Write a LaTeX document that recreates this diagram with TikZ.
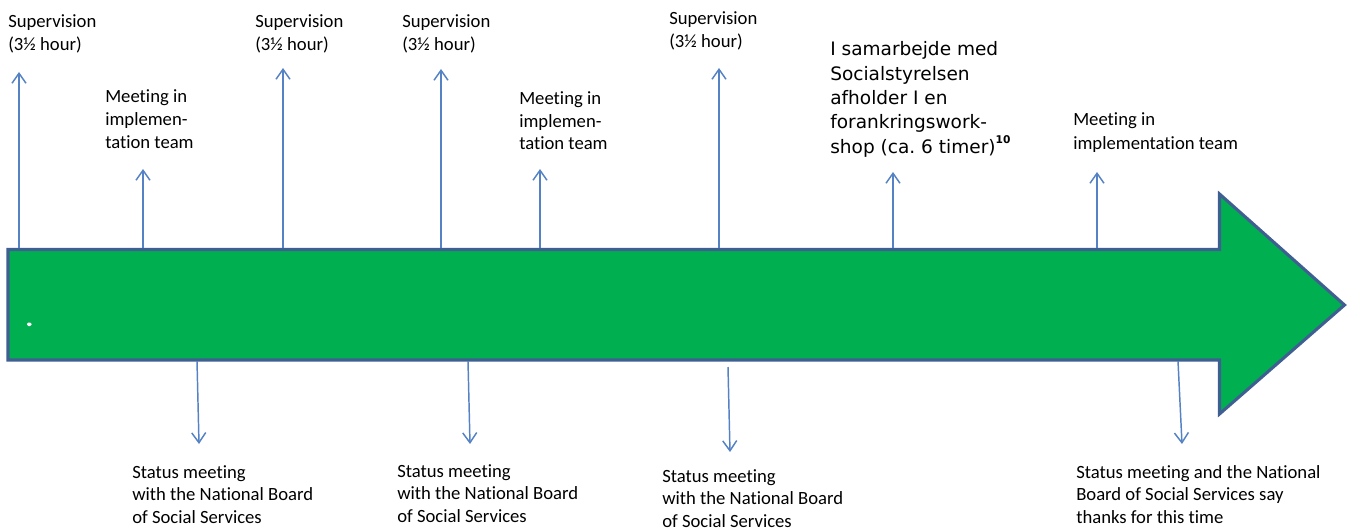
\documentclass[tikz,border=0pt]{standalone}
\usepackage{fontspec}
\setmainfont{Carlito}[Ligatures=NoCommon]
\newfontfamily\wsfont{DejaVu Sans}
\usetikzlibrary{arrows.meta}
\definecolor{bodygreen}{RGB}{0,176,80}
\definecolor{bodyedge}{RGB}{63,94,145}
\definecolor{tickblue}{RGB}{84,130,196}
\frenchspacing

\begin{document}
\begin{tikzpicture}[x=0.75pt,y=-0.75pt,
  tick/.style={draw=tickblue,line width=1.1pt,
    -{Straight Barb[length=7.5pt,width=10.5pt,line width=1.1pt]}},
  lbl/.style={anchor=base west,inner sep=0pt,
    font=\fontsize{14pt}{17.25pt}\selectfont},
  lbldown/.style={anchor=base west,inner sep=0pt,
    font=\fontsize{14pt}{16.9pt}\selectfont},
  wslbl/.style={anchor=base west,inner sep=0pt,
    font=\wsfont\fontsize{13.9pt}{18.2pt}\selectfont}]
\useasboundingbox (0,0) rectangle (1347,528);
\clip (0,0) rectangle (1347,528);

% the timeline arrow
\draw[fill=bodygreen,draw=bodyedge,line width=2.3pt,line join=miter]
  (8,249.5) -- (1219.5,249.5) -- (1219.5,194) -- (1344.5,305)
  -- (1219.5,414) -- (1219.5,360) -- (8,360) -- cycle;
\fill[white,rounded corners=1pt] (27,322.5) rectangle (31.5,326);

% events above the line
\coordinate (a1) at (19,248);   \coordinate (b1) at (19,72);
\coordinate (a2) at (143,248);  \coordinate (b2) at (143,169);
\coordinate (a3) at (283,248);  \coordinate (b3) at (283,68);
\coordinate (a4) at (441,248);  \coordinate (b4) at (441,69);
\coordinate (a5) at (540,248);  \coordinate (b5) at (540,169);
\coordinate (a6) at (719,248);  \coordinate (b6) at (719,68);
\coordinate (a7) at (893,248);  \coordinate (b7) at (893,172);
\coordinate (a8) at (1097,248); \coordinate (b8) at (1097,172);
\foreach \i in {1,...,8} \draw[tick] (a\i) -- (b\i);

% events below the line
\coordinate (c1) at (197,361);  \coordinate (d1) at (199,444);
\coordinate (c2) at (468,361);  \coordinate (d2) at (470,444);
\coordinate (c3) at (728,367);  \coordinate (d3) at (730,452);
\coordinate (c4) at (1178,361); \coordinate (d4) at (1182,444);
\foreach \i in {1,...,4} \draw[tick] (c\i) -- (d\i);

% labels above
\node[lbl] (sup1) at (8,28)
  {\begin{tabular}[t]{@{}l@{}}Supervision\\(3½ hour)\end{tabular}};
\node[lbl] (imp1) at (105,103)
  {\begin{tabular}[t]{@{}l@{}}Meeting in\\implemen-\\tation team\end{tabular}};
\node[lbl] (sup2) at (255,28)
  {\begin{tabular}[t]{@{}l@{}}Supervision\\(3½ hour)\end{tabular}};
\node[lbl] (sup3) at (402,28)
  {\begin{tabular}[t]{@{}l@{}}Supervision\\(3½ hour)\end{tabular}};
\node[lbl] (imp2) at (519,104)
  {\begin{tabular}[t]{@{}l@{}}Meeting in\\implemen-\\tation team\end{tabular}};
\node[lbl] (sup4) at (669,25)
  {\begin{tabular}[t]{@{}l@{}}Supervision\\(3½ hour)\end{tabular}};
\node[wslbl] (ws) at (830,56)
  {\begin{tabular}[t]{@{}l@{}}I samarbejde med\\Socialstyrelsen\\afholder I en\\forankringswork-\\shop (ca. 6 timer)\raisebox{7pt}{\bfseries\fontsize{8pt}{8pt}\selectfont 10}\end{tabular}};
\node[lbl] (imp3) at (1073,126)
  {\begin{tabular}[t]{@{}l@{}}Meeting in\\implementation team\end{tabular}};

% labels below
\node[lbldown] (st1) at (132,478)
  {\begin{tabular}[t]{@{}l@{}}Status meeting\\with the National Board\\of Social Services\end{tabular}};
\node[lbldown] (st2) at (397,477)
  {\begin{tabular}[t]{@{}l@{}}Status meeting\\with the National Board\\of Social Services\end{tabular}};
\node[lbldown] (st3) at (662,482)
  {\begin{tabular}[t]{@{}l@{}}Status meeting\\with the National Board\\of Social Services\end{tabular}};
\node[lbldown] (st4) at (1076,478)
  {\begin{tabular}[t]{@{}l@{}}Status meeting and the National\\Board of Social Services say\\thanks for this time\end{tabular}};
\end{tikzpicture}
\end{document}
